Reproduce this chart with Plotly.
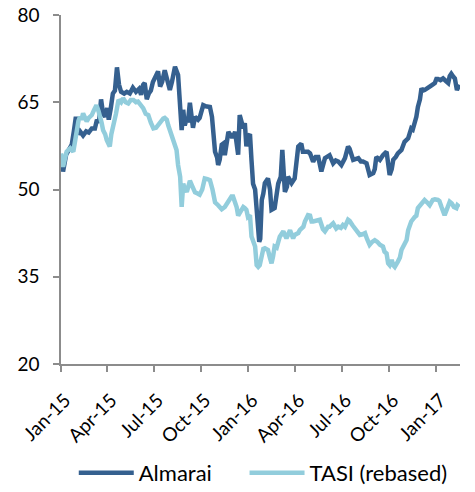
import pandas as pd
import plotly.graph_objects as go

# Days since 2015-01-01 and values
almarai_day = [0, 4, 10, 16, 21, 25, 29, 33, 37, 43, 49, 54, 60, 66, 70, 74, 78, 82, 86, 90,
               93, 97, 101, 105, 109, 113, 117, 123, 128, 134, 140, 146, 152, 156, 160, 163, 167, 171, 175, 179,
               185, 189, 193, 197, 202, 208, 212, 216, 222, 228, 232, 235, 238, 241, 245, 247, 251, 254, 257, 261,
               267, 270, 277, 282, 290, 294, 296, 300, 304, 306, 309, 313, 316, 319, 326, 332, 335, 339, 345, 348,
               352, 355, 358, 361, 364, 368, 371, 374, 378, 381, 383, 386, 388, 391, 394, 397, 403, 407, 410, 416,
               423, 428, 431, 436, 440, 442, 449, 455, 462, 468, 471, 475, 481, 485, 491, 496, 501, 507, 510, 514,
               523, 530, 535, 540, 546, 553, 559, 562, 569, 574, 579, 584, 588, 595, 598, 601, 608, 611, 614, 621,
               627, 634, 637, 640, 644, 647, 652, 656, 663, 666, 669, 676, 679, 682, 685, 689, 692, 695, 699, 702,
               705, 708, 713, 718, 723, 728, 731, 734, 739, 744, 749, 754, 757, 760, 763, 767, 771, 776]
almarai_val = [55.1, 53.1, 56.0, 57.0, 57.7, 60.0, 62.5, 59.5, 60.0, 59.3, 60.0, 59.8, 60.5, 60.5, 62.0, 61.5, 65.5, 63.0, 62.5, 64.0,
               62.0, 64.0, 66.5, 67.0, 71.0, 68.0, 66.8, 66.5, 66.8, 66.5, 67.5, 66.8, 67.3, 66.3, 68.0, 68.3, 65.5, 66.5, 67.0, 68.5,
               69.5, 70.3, 67.7, 68.5, 70.5, 68.0, 67.1, 68.5, 71.1, 69.7, 64.0, 60.2, 63.7, 61.0, 62.3, 61.5, 64.9, 62.0, 60.6, 62.5,
               62.0, 62.3, 64.5, 64.3, 64.2, 62.5, 59.9, 56.5, 55.5, 54.2, 55.1, 57.7, 57.9, 55.9, 59.9, 59.1, 59.1, 59.9, 56.0, 62.8,
               61.5, 60.5, 61.4, 57.4, 59.1, 59.5, 55.0, 51.0, 50.0, 47.0, 44.0, 41.0, 41.5, 48.2, 49.3, 51.1, 51.9, 50.0, 46.5, 46.8,
               51.0, 52.2, 56.8, 49.6, 50.5, 52.2, 51.1, 51.9, 57.4, 57.9, 56.5, 56.5, 56.5, 56.2, 54.8, 55.6, 55.6, 53.1, 54.5, 55.4,
               55.9, 54.5, 55.0, 54.8, 54.2, 55.4, 57.4, 57.0, 55.1, 55.2, 55.4, 54.8, 54.8, 54.5, 53.5, 52.5, 52.8, 53.5, 55.6, 55.1,
               55.9, 56.5, 54.5, 52.5, 53.5, 55.1, 55.6, 56.2, 56.8, 57.9, 58.2, 58.8, 59.5, 60.5, 60.3, 61.5, 62.5, 64.2, 65.5, 67.4,
               67.0, 67.1, 67.5, 67.7, 68.0, 68.3, 69.0, 69.0, 68.8, 69.1, 68.7, 68.3, 69.5, 69.9, 69.5, 69.1, 67.1, 68.0]

tasi_day = [0, 4, 11, 18, 24, 27, 31, 34, 37, 40, 43, 47, 50, 54, 60, 64, 69, 73, 76, 79,
            82, 86, 89, 92, 95, 98, 102, 107, 112, 117, 121, 126, 131, 136, 141, 146, 150, 156, 160, 165,
            170, 175, 180, 185, 189, 195, 199, 202, 206, 209, 212, 216, 219, 222, 225, 228, 232, 235, 238, 241,
            245, 248, 251, 256, 261, 266, 270, 275, 280, 285, 290, 295, 300, 306, 313, 319, 325, 332, 335, 342,
            345, 348, 352, 355, 358, 361, 364, 368, 371, 374, 378, 381, 384, 387, 391, 394, 397, 400, 403, 407,
            410, 413, 416, 420, 423, 426, 433, 439, 446, 452, 455, 462, 465, 472, 475, 481, 485, 488, 491, 496,
            501, 504, 510, 514, 520, 523, 530, 536, 540, 545, 549, 553, 559, 562, 568, 572, 578, 582, 587, 592,
            596, 601, 606, 611, 616, 621, 627, 630, 634, 637, 640, 644, 647, 650, 656, 660, 663, 666, 669, 673,
            676, 679, 682, 689, 692, 695, 699, 705, 708, 715, 718, 724, 728, 734, 737, 741, 744, 747, 751, 757,
            761, 765, 770, 772, 776]
tasi_val = [56.2, 53.9, 56.5, 57.1, 56.5, 58.5, 61.1, 61.8, 62.5, 62.0, 63.1, 62.5, 61.7, 62.3, 62.8, 63.6, 64.5, 63.5, 62.0, 61.5,
            60.2, 59.5, 58.5, 57.8, 57.4, 59.5, 60.8, 63.0, 65.4, 65.0, 65.7, 65.0, 64.8, 65.4, 65.4, 65.0, 65.1, 64.5, 64.0, 63.0,
            62.8, 61.5, 60.5, 60.6, 61.1, 61.8, 62.2, 62.3, 62.0, 61.0, 60.2, 58.8, 57.9, 57.2, 56.8, 54.2, 52.2, 47.0, 51.0, 50.2,
            49.6, 50.5, 51.5, 50.5, 49.5, 49.3, 49.1, 50.0, 51.9, 51.8, 51.6, 50.0, 47.8, 47.3, 46.6, 47.0, 48.0, 48.8, 48.8, 47.0,
            45.5, 46.0, 46.8, 47.0, 46.8, 46.5, 45.3, 45.6, 41.9, 41.0, 40.2, 37.0, 36.7, 37.0, 39.0, 39.8, 39.9, 39.8, 39.6, 38.2,
            37.3, 38.5, 40.2, 40.0, 41.5, 41.9, 42.8, 41.6, 43.0, 41.6, 42.2, 42.5, 43.0, 43.6, 44.5, 45.6, 45.5, 44.5, 44.5, 44.6,
            44.8, 44.8, 43.2, 42.8, 43.6, 43.6, 44.2, 43.3, 43.6, 43.4, 43.9, 43.6, 44.8, 44.6, 43.8, 43.3, 42.8, 42.2, 42.3, 42.5,
            41.5, 40.5, 41.0, 41.3, 41.0, 40.5, 40.2, 39.3, 39.0, 37.3, 37.0, 37.9, 37.0, 36.7, 37.6, 38.3, 39.6, 40.2, 40.5, 41.3,
            43.0, 43.8, 44.5, 45.3, 45.5, 46.8, 47.3, 47.9, 48.2, 47.6, 47.3, 48.2, 48.3, 48.2, 48.0, 47.0, 46.0, 45.6, 46.5, 47.9,
            47.6, 47.0, 46.8, 47.3, 47.0]

tick_dates = ["2015-01-01", "2015-04-01", "2015-07-01", "2015-10-01", "2016-01-01",
              "2016-04-01", "2016-07-01", "2016-10-01", "2017-01-01"]
tick_labels = ["Jan-15", "Apr-15", "Jul-15", "Oct-15", "Jan-16", "Apr-16", "Jul-16", "Oct-16", "Jan-17"]
y_ticks = [20, 35, 50, 65, 80]

base = pd.Timestamp("2015-01-01")
alm_x = base + pd.to_timedelta(almarai_day, unit="D")
tasi_x = base + pd.to_timedelta(tasi_day, unit="D")

fig = go.Figure()
fig.add_trace(go.Scatter(x=alm_x, y=almarai_val, mode="lines", name="Almarai",
                         line=dict(color="#35608F", width=4.5), legend="legend"))
fig.add_trace(go.Scatter(x=tasi_x, y=tasi_val, mode="lines", name="TASI (rebased)",
                         line=dict(color="#92CDDC", width=4.5), legend="legend2"))

axis_col = "#8C8C8C"
leg_common = dict(orientation="h", xanchor="left", y=-0.312, yanchor="middle",
                  font=dict(size=22), itemwidth=55, bgcolor="rgba(0,0,0,0)")
fig.update_layout(
    width=475, height=492,
    margin=dict(l=61, r=15, t=15, b=128, autoexpand=False),
    paper_bgcolor="white", plot_bgcolor="white",
    font=dict(family="Lato, sans-serif", size=19, color="#000000"),
    showlegend=True,
    legend=dict(x=0.032, **leg_common),
    legend2=dict(x=0.46, **leg_common),
    xaxis=dict(type="date", range=["2015-01-01", "2017-02-16"],
               tickvals=tick_dates, ticktext=tick_labels, tickangle=-45,
               showline=True, linecolor=axis_col, linewidth=1.5,
               ticks="outside", ticklen=6, tickcolor=axis_col, tickwidth=1.5,
               ticklabelstandoff=10, ticklabelshift=4,
               showgrid=False, zeroline=False, automargin=False),
    yaxis=dict(range=[20, 80], tickvals=y_ticks,
               showline=True, linecolor=axis_col, linewidth=1.5,
               ticks="outside", ticklen=6, tickcolor=axis_col, tickwidth=1.5,
               ticklabelstandoff=10,
               showgrid=False, zeroline=False, automargin=False),
)

# remove the browser's default 8px body margin so the figure fills the window
fig.write_html("out.html", config={"displayModeBar": False},
               post_script="document.body.style.margin='0';")
